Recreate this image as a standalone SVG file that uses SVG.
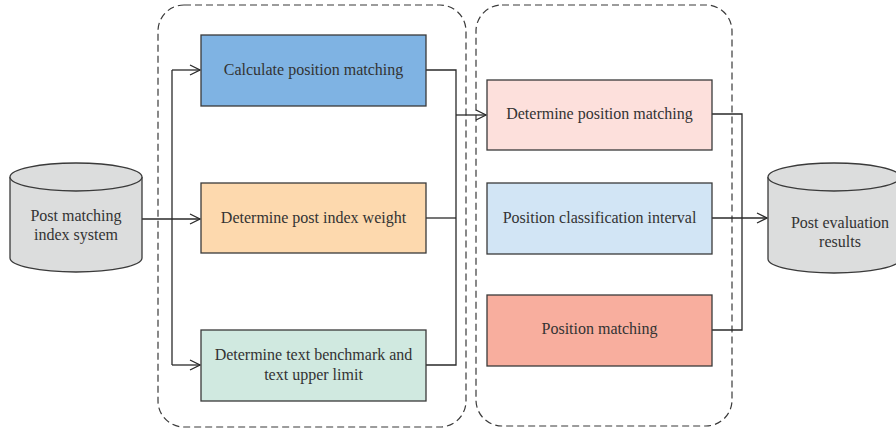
<svg xmlns="http://www.w3.org/2000/svg" width="896" height="432" viewBox="0 0 896 432">
<style>
.box{stroke:#3a3a3a;stroke-width:1.3}
.cyl{fill:#dcdddd;stroke:#3a3a3a;stroke-width:1.3}
.grp{fill:none;stroke:#3a3a3a;stroke-width:1.2;stroke-dasharray:7 4}
.ln{fill:none;stroke:#2a2a2a;stroke-width:1.3}
text{font-family:"Liberation Serif","Times New Roman",serif;font-size:16px;fill:#333;text-anchor:middle}
</style>
<defs>
<marker id="arr" viewBox="0 0 12 12" refX="11" refY="6" markerWidth="12" markerHeight="12" markerUnits="userSpaceOnUse" orient="auto">
<polyline points="1,1 11,6 1,11" fill="none" stroke="#2a2a2a" stroke-width="1.3"/>
</marker>
</defs>
<g id="groups">
<rect class="grp" x="158" y="5" width="308" height="422" rx="26"/>
<rect class="grp" x="476" y="5" width="256" height="421" rx="26"/>
</g>
<g id="connectors">
<line class="ln" x1="142" y1="219" x2="200" y2="219" marker-end="url(#arr)"/>
<polyline class="ln" points="172,365 172,70"/>
<line class="ln" x1="172" y1="70" x2="200" y2="70" marker-end="url(#arr)"/>
<line class="ln" x1="172" y1="365" x2="200" y2="365" marker-end="url(#arr)"/>
<polyline class="ln" points="426,70 456,70 456,365 426,365"/>
<line class="ln" x1="426" y1="218" x2="456" y2="218"/>
<line class="ln" x1="456" y1="115" x2="486" y2="115" marker-end="url(#arr)"/>
<polyline class="ln" points="712,114 742,114 742,330 712,330"/>
<line class="ln" x1="712" y1="218" x2="767" y2="218" marker-end="url(#arr)"/>
</g>
<g id="cyl-in">
<path class="cyl" d="M10,177 L10,258 A66,14 0 0 0 142,258 L142,177 A66,14 0 0 0 10,177 Z"/>
<path class="cyl" d="M10,177 A66,14 0 0 0 142,177"/>
<text x="76" y="221">Post matching</text>
<text x="76" y="240">index system</text>
</g>
<g id="calc">
<rect class="box" x="201" y="35" width="225" height="71" fill="#7fb3e3"/>
<text x="313.5" y="75">Calculate position matching</text>
</g>
<g id="weight">
<rect class="box" x="201" y="183" width="225" height="70" fill="#fdd9ae"/>
<text x="313.5" y="223">Determine post index weight</text>
</g>
<g id="bench">
<rect class="box" x="201" y="330" width="225" height="71" fill="#d0e9e0"/>
<text x="313.5" y="360">Determine text benchmark and</text>
<text x="313.5" y="380">text upper limit</text>
</g>
<g id="detpos">
<rect class="box" x="487" y="80" width="225" height="70" fill="#fde0dc"/>
<text x="599.5" y="119">Determine position matching</text>
</g>
<g id="interval">
<rect class="box" x="487" y="183" width="225" height="71" fill="#d2e5f5"/>
<text x="599.5" y="223">Position classification interval</text>
</g>
<g id="posmatch">
<rect class="box" x="487" y="295" width="225" height="71" fill="#f8ae9e"/>
<text x="599.5" y="334">Position matching</text>
</g>
<g id="cyl-out">
<path class="cyl" d="M768,177 L768,259 A66,14 0 0 0 900,259 L900,177 A66,14 0 0 0 768,177 Z"/>
<path class="cyl" d="M768,177 A66,14 0 0 0 900,177"/>
<text x="840" y="228">Post evaluation</text>
<text x="840" y="247">results</text>
</g>
</svg>
